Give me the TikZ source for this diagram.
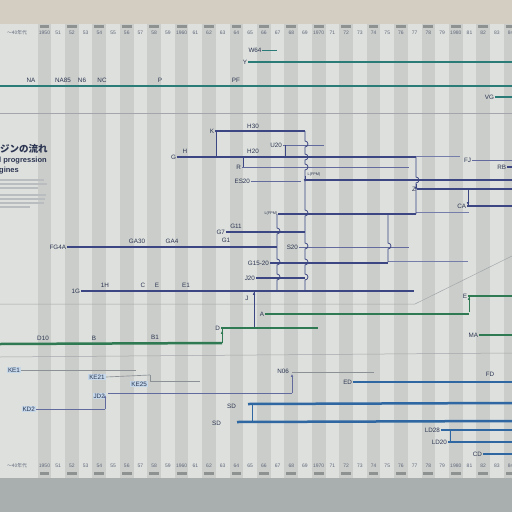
\documentclass[tikz,border=0pt]{standalone}
\usepackage{fontspec}
\setmainfont{Liberation Sans}
\newfontfamily\jpfont{Noto Sans CJK JP}
\usetikzlibrary{arrows.meta}
\definecolor{wall}{HTML}{D3CDC2}
\definecolor{board}{HTML}{DDE0DC}
\definecolor{stripe}{HTML}{CACDC9}
\definecolor{tab}{HTML}{8E9290}
\definecolor{floor}{HTML}{A9AEAE}
\definecolor{ink}{HTML}{2C3552}
\definecolor{teal}{HTML}{2B7B78}
\definecolor{navy}{HTML}{3B4682}
\definecolor{leaf}{HTML}{2F7A52}
\definecolor{sky}{HTML}{2E67A2}
\definecolor{rule}{HTML}{8C9196}
\definecolor{notebg}{HTML}{C4D8EA}

\begin{document}
\begin{tikzpicture}[x=1pt,y=-1pt,
  lab/.style={font=\fontsize{6.3}{7}\selectfont, text=ink, inner sep=.8pt},
  minilab/.style={font=\fontsize{3.8}{4}\selectfont, text=ink, inner sep=.5pt},
  yr/.style={font=\fontsize{5}{5}\selectfont, text=ink!75, inner sep=0pt},
  notebox/.style={lab, fill=notebg, inner sep=1pt},
  main/.style={line width=2.5pt},
  mid/.style={line width=1.8pt},
  fine/.style={line width=.65pt},
  jump/.style={line width=.75pt},
  jtip/.style={-{Latex[length=2.8pt,width=2.6pt]}, line width=.65pt},
  sepline/.style={draw=rule!80, line width=.5pt}
]
\useasboundingbox (0,0) rectangle (512,512);
\clip (0,0) rectangle (512,512);
% wall, board and year columns
\fill[wall] (0,0) rectangle (512,24);
\fill[board] (0,24) rectangle (512,478);
\foreach \k in {0,2,...,34}{
  \fill[stripe] ({37.65+13.71*\k},24) rectangle ++(13.71,454);
  \fill[tab] ({39.6+13.71*\k},25) rectangle ++(9.8,2.5);
  \fill[tab] ({39.6+13.71*\k},472) rectangle ++(9.8,2.5);
}
\fill[floor] (0,478) rectangle (512,512);
\foreach \k in {0,...,34}{
  \pgfmathtruncatemacro\yy{1950+\k}
  \pgfmathtruncatemacro\dd{mod(\yy,100)}
  \pgfmathtruncatemacro\dec{mod(\k,10)}
  \ifnum\dec=0 \def\txt{\yy}\else\def\txt{\dd}\fi
  \node[yr] (top\k) at ({44.5+13.71*\k},33) {\txt};
  \node[yr] (bot\k) at ({44.5+13.71*\k},466) {\txt};
}
\node[yr, font=\jpfont\fontsize{4.8}{5}\selectfont] (topera) at (17,33) {〜40年代};
\node[yr, font=\jpfont\fontsize{4.8}{5}\selectfont] (botera) at (17,466) {〜40年代};

% left panel
\node[anchor=west, text=ink, inner sep=0pt, font=\jpfont\bfseries\fontsize{9.5}{10}\selectfont] (title) at (0,149) {ジンの流れ};
\node[anchor=west, text=ink, inner sep=0pt, font=\bfseries\fontsize{7.5}{8}\selectfont] (sub1) at (-1,161) {l progression};
\node[anchor=west, text=ink, inner sep=0pt, font=\bfseries\fontsize{7.5}{8}\selectfont] (sub2) at (-1,171) {gines};
\foreach \yy/\w in {180/44,184/47,188/38,195/46,199/45,203/44,207/30}
  \draw[rule!60, line width=1.1pt] (0,\yy) -- ++(\w,0);

% separators
\draw[sepline] (0,113) -- (512,113);
\draw[sepline] (0,304) -- (415,304) -- (512,256);
\draw[sepline] (0,357) -- (512,353);

% teal group
\node[lab] (w64) at (255,50) {W64};
\draw[fine, teal] (w64.east) -- ++(15,0);
\node[lab, anchor=east] (y) at (248,62) {Y};
\draw[mid, teal] (y.east) -- ++(270,0);
\coordinate (naL) at (0,86);
\coordinate (naR) at (512,86);
\draw[main, teal] (naL) -- (naR);
\node[lab] (na) at (31,80) {NA};
\node[lab] (na85) at (63,80) {NA85};
\node[lab] (n6) at (82,80) {N6};
\node[lab] (nc) at (102,80) {NC};
\node[lab] (p) at (160,80) {P};
\node[lab] (pf) at (236,80) {PF};
\node[lab, anchor=east] (vg) at (495,97) {VG};
\draw[mid, teal] (vg.east) -- ++(30,0);

% navy group
\node[lab, anchor=east] (k) at (215,131) {K};
\draw[mid, navy] (k.east) -- ++(90,0);
\node[lab] (h30) at (253,126) {H30};
\node[lab, anchor=east] (g) at (177,157) {G};
\draw[main, navy] (g.east) -- ++(239,0);
\draw[fine, navy!70] (416,156) -- (460,156);
\node[lab] (h) at (185,151) {H};
\node[lab] (h20) at (253,151) {H20};
\node[lab, anchor=east] (u20) at (283,145) {U20};
\draw[fine, navy!80] (u20.east) -- ++(41,0);
\node[lab, anchor=east] (r) at (242,167) {R};
\draw[fine, navy!80] (r.east) -- ++(167,0);
\node[lab, anchor=east] (es20) at (251,181) {ES20};
\draw[fine, navy!80] (es20.east) -- ++(50,0);
\node[lab, anchor=east] (fj) at (472,160) {FJ};
\draw[fine, navy!80] (fj.east) -- ++(45,0);
\node[lab, anchor=east] (rb) at (507,167) {RB};
\draw[mid, navy] (rb.east) -- ++(10,0);
\coordinate (lfpm) at (305,180);
\draw[main, navy] (lfpm) -- ++(210,0);
\node[minilab, anchor=west] (lfpmA) at (307,175) {L(FPM)};
\node[lab, anchor=east] (z) at (417,189) {Z};
\draw[main, navy] (z.east) -- ++(100,0);
\node[lab, anchor=east] (ca) at (467,206) {CA};
\draw[mid, navy] (ca.east) -- ++(50,0);
\node[minilab, anchor=east] (lfpmB) at (278,214) {L(FPM)};
\draw[main, navy] (lfpmB.east) -- ++(138,0);
\draw[fine, navy!70] (416,212) -- (469,212);
\node[lab, anchor=east] (g7) at (226,232) {G7};
\draw[mid, navy] (g7.east) -- ++(79,0);
\node[lab] (g11) at (236,226) {G11};
\node[lab, anchor=east] (fg4a) at (67,247) {FG4A};
\draw[main, navy] (fg4a.east) -- ++(210,0);
\node[lab] (ga30) at (137,241) {GA30};
\node[lab] (ga4) at (172,241) {GA4};
\node[lab] (g1) at (226,240) {G1};
\node[lab, anchor=east] (s20) at (299,247) {S20};
\draw[fine, navy!80] (s20.east) -- ++(110,0);
\node[lab, anchor=east] (g1520) at (270,263) {G15-20};
\draw[mid, navy] (g1520.east) -- ++(118,0);
\draw[fine, navy!70] (388,261) -- (468,261);
\node[lab, anchor=east] (j20) at (256,278) {J20};
\draw[mid, navy] (j20.east) -- ++(49,0);
\node[lab, anchor=east] (one_g) at (81,291) {1G};
\draw[main, navy] (one_g.east) -- ++(333,0);
\node[lab] (one_h) at (105,285) {1H};
\node[lab] (c) at (143,285) {C};
\node[lab] (e) at (157,285) {E};
\node[lab] (e1) at (186,285) {E1};
\node[lab] (j) at (247,298) {J};

% navy links
\draw[jump, navy] (216,131) -- (216,157);
\draw[jump, navy] (285,145) -- (285,157);
\draw[jump, navy] (243,157) -- (243,167);
\draw[jump, navy] (305,131) \foreach \c in {144,157,167,213,246,262,277}
  {-- (305,\c-3) arc[start angle=90, end angle=-90, radius=3pt]} -- (305,290);
\draw[jump, navy] (416,157) -- (416,177) arc[start angle=90, end angle=-90, radius=3pt] -- (416,214);
\draw[jump, navy] (277,214) \foreach \c in {231,262,277}
  {-- (277,\c-3) arc[start angle=90, end angle=-90, radius=3pt]} -- (277,290);
\draw[jump, navy] (388,214) -- (388,243) arc[start angle=90, end angle=-90, radius=3pt] -- (388,262);
\draw[jump, navy] (468,188) -- (468,205);
\draw[jump, navy] (254,290) -- (254,327);
\draw[jtip, navy] (305,176) -- (305,182);
\draw[jtip, navy] (416,184) -- (416,190);
\draw[jtip, navy] (468,199) -- (468,205);
\draw[jtip, navy] (254,298) -- (254,292);

% green group
\node[lab, anchor=east] (a) at (265,314) {A};
\draw[main, leaf] (a.east) -- ++(204,0);
\node[lab, anchor=east] (e2) at (468,296) {E};
\draw[mid, leaf] (e2.east) -- ++(50,0);
\draw[jump, leaf] (469,312) -- (469,295);
\draw[jtip, leaf] (469,302) -- (469,297);
\node[lab, anchor=east] (d) at (221,328) {D};
\draw[mid, leaf] (d.east) -- ++(97,0);
\coordinate (d10L) at (0,344);
\coordinate (d10R) at (222,343);
\draw[main, leaf] (d10L) -- (d10R);
\draw[jump, leaf] (d10R) -- (222,327);
\draw[jtip, leaf] (222,336) -- (222,331);
\node[lab] (d10) at (43,338) {D10};
\node[lab] (b) at (94,338) {B};
\node[lab] (b1) at (155,337) {B1};
\node[lab, anchor=east] (ma) at (479,335) {MA};
\draw[mid, leaf] (ma.east) -- ++(40,0);

% blue group
\node[notebox] (ke1) at (14,370) {KE1};
\draw[fine, rule] (ke1.east) -- ++(115,0);
\node[notebox] (ke21) at (97,377) {KE21};
\draw[fine, rule] (ke21.east) -- (150,375);
\draw[fine, rule] (150,375) -- (150,381);
\node[notebox, anchor=east] (ke25) at (148,384) {KE25};
\draw[fine, rule] (150,381) -- (200,381);
\node[lab, anchor=east] (n06) at (290,371) {N06};
\draw[fine, rule] (292,372) -- (374,372);
\node[notebox, anchor=east] (jd2) at (106,396) {JD2};
\draw[fine, navy!80] (108,393) -- (292,393);
\draw[jtip, navy!80] (292,393) -- (292,374);
\node[notebox, anchor=east] (kd2) at (36,409) {KD2};
\draw[fine, navy!80] (kd2.east) -- (105,409);
\draw[jtip, navy!80] (105,409) -- (105,395);
\node[lab, anchor=east] (ed) at (353,382) {ED};
\draw[main, sky] (ed.east) -- ++(165,0);
\node[lab] (fd) at (490,374) {FD};
\node[lab, anchor=east] (sdA) at (237,406) {SD};
\draw[main, sky] (248,404) -- (512,403);
\node[lab, anchor=east] (sdB) at (222,423) {SD};
\draw[main, sky] (237,422) -- (512,421);
\draw[jump, sky] (252,404) -- (252,422);
\node[lab, anchor=east] (ld28) at (441,430) {LD28};
\draw[mid, sky] (ld28.east) -- ++(75,0);
\node[lab, anchor=east] (ld20) at (448,442) {LD20};
\draw[mid, sky] (ld20.east) -- ++(70,0);
\draw[jump, sky] (450,430) -- (450,441);
\node[lab, anchor=east] (cd) at (483,454) {CD};
\draw[mid, sky] (cd.east) -- ++(35,0);
\end{tikzpicture}
\end{document}
